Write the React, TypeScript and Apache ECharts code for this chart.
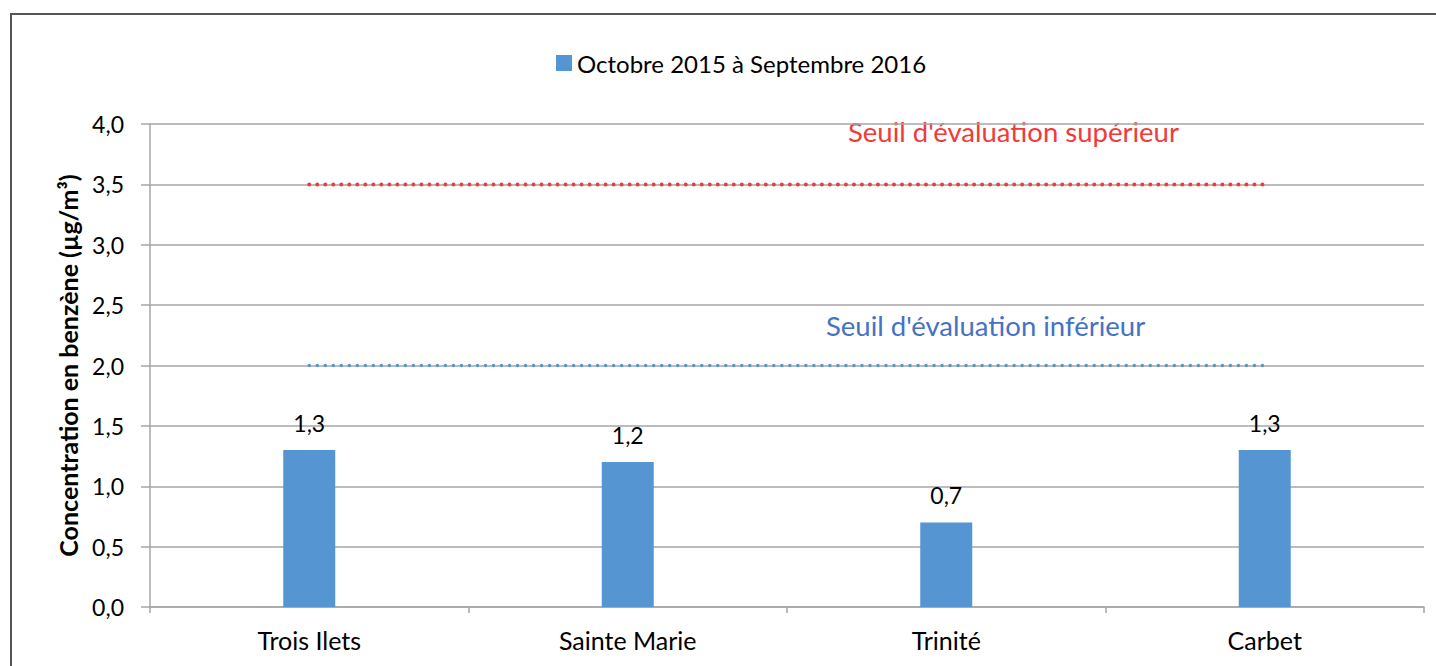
import React, { useEffect, useRef } from "react";
import * as echarts from "echarts";

const categories = ["Trois Ilets", "Sainte Marie", "Trinité", "Carbet"];
const seriesName = "Octobre 2015 à Septembre 2016";
const values = [1.3, 1.2, 0.7, 1.3];
const upperThreshold = [3.5, 3.5, 3.5, 3.5];
const lowerThreshold = [2.0, 2.0, 2.0, 2.0];
const upperLabel = "Seuil d'évaluation supérieur";
const lowerLabel = "Seuil d'évaluation inférieur";
const yAxisName = "Concentration en benzène (µg/m³)";

const FONT = "Lato";
const GRID_COLOR = "#a6a6a6";

export default function App() {
  const ref = useRef<HTMLDivElement>(null);
  useEffect(() => {
    document.body.style.margin = "0";
    if (!ref.current) return;
    const chart = echarts.init(ref.current, null, { renderer: "svg" });
    const fmt = (v: number) => v.toFixed(1).replace(".", ",");
    chart.setOption({
      animation: false,
      textStyle: { fontFamily: FONT },
      grid: { left: 150, right: 12, top: 124, bottom: 59, containLabel: false },
      legend: {
        data: [seriesName],
        left: 551,
        top: 46,
        icon: "rect",
        itemWidth: 16,
        itemHeight: 16,
        itemGap: 6,
        textStyle: { fontSize: 24, color: "#000", fontFamily: FONT },
      },
      xAxis: {
        type: "category",
        data: categories,
        boundaryGap: true,
        axisLine: { lineStyle: { color: GRID_COLOR, width: 1.5 } },
        axisTick: { show: true, interval: 0, length: 6, lineStyle: { color: GRID_COLOR, width: 1.5 } },
        axisLabel: { color: "#000", fontSize: 25, margin: 20, fontFamily: FONT },
      },
      yAxis: {
        type: "value",
        min: 0,
        max: 4,
        interval: 0.5,
        name: yAxisName,
        nameLocation: "middle",
        nameGap: 70,
        nameTextStyle: { fontSize: 25, fontWeight: "bold", color: "#000", fontFamily: FONT },
        axisLine: { show: true, lineStyle: { color: GRID_COLOR, width: 1.5 } },
        axisTick: { show: true, length: 9, lineStyle: { color: GRID_COLOR, width: 1.5 } },
        axisLabel: { color: "#000", fontSize: 23, margin: 26, formatter: fmt, fontFamily: FONT },
        splitLine: { show: true, lineStyle: { color: GRID_COLOR, width: 1.5 } },
      },
      series: [
        {
          name: seriesName,
          type: "bar",
          data: values,
          barWidth: 52,
          itemStyle: { color: "#5596d2" },
          label: {
            show: true,
            position: "top",
            distance: 16,
            formatter: (p: any) => fmt(p.value),
            color: "#000",
            fontSize: 23,
            fontFamily: FONT,
          },
        },
        {
          name: "upper",
          type: "line",
          data: upperThreshold,
          symbol: "none",
          silent: true,
          lineStyle: { color: "#f23a3a", width: 4, type: [0.01, 8], cap: "round" },
        },
        {
          name: "lower",
          type: "line",
          data: lowerThreshold,
          symbol: "none",
          silent: true,
          lineStyle: { color: "#5596d2", width: 3.5, type: [0.01, 8], cap: "round" },
        },
      ],
      graphic: [
        {
          type: "rect",
          shape: { x: 11, y: 14, width: 1440, height: 700 },
          style: { fill: "none", stroke: "#555", lineWidth: 2 },
          silent: true,
        },
        {
          type: "text",
          left: 848,
          top: 117,
          style: { text: upperLabel, fill: "#f23a3a", font: `27.5px ${FONT}` },
        },
        {
          type: "text",
          left: 826,
          top: 311,
          style: { text: lowerLabel, fill: "#4472c4", font: `27.5px ${FONT}` },
        },
      ],
    });
    return () => chart.dispose();
  }, []);
  return <div ref={ref} style={{ width: 1436, height: 666 }} />;
}
